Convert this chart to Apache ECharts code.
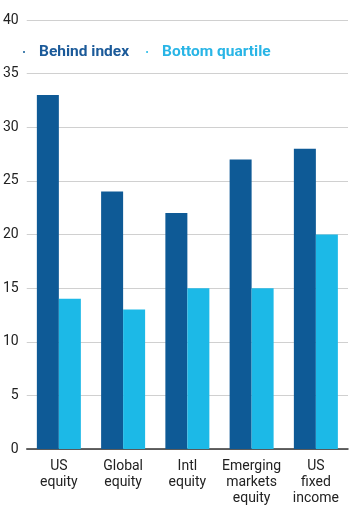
<!DOCTYPE html>
<html><head><meta charset="utf-8">
<script src="https://cdn.jsdelivr.net/npm/echarts@6/dist/echarts.min.js"></script>
<style>html,body{margin:0;padding:0;background:#fff}#c{width:356px;height:509px}</style>
</head><body><div id="c"></div>
<script>
const categories = ["US\nequity", "Global\nequity", "Intl\nequity", "Emerging\nmarkets\nequity", "US\nfixed\nincome"];
const behindIndex = [33, 24, 22, 27, 28];
const bottomQuartile = [14, 13, 15, 15, 20];
const seriesNames = ["Behind index", "Bottom quartile"];
const yTicks = [0, 5, 10, 15, 20, 25, 30, 35, 40];

const chart = echarts.init(document.getElementById('c'), null, {renderer: 'canvas'});
const narrow = '"Liberation Sans Narrow", "Roboto", sans-serif';
chart.setOption({
  animation: false,
  grid: {left: 26, right: 8, top: 20, bottom: 60, containLabel: false},
  legend: {
    left: 18, top: 39, icon: 'circle', itemWidth: 2, itemHeight: 2, itemGap: 17,
    data: [
      {name: seriesNames[0], textStyle: {color: '#1b5a99'}},
      {name: seriesNames[1], textStyle: {color: '#29b5e6'}}
    ],
    textStyle: {fontFamily: 'Roboto, sans-serif', fontWeight: 'bold', fontSize: 15.5, padding: [0, 0, 0, 9]}
  },
  xAxis: {
    type: 'category', data: categories,
    axisTick: {show: false},
    axisLine: {lineStyle: {color: '#333', width: 1.5}},
    axisLabel: {fontFamily: narrow, fontSize: 14, color: '#222', lineHeight: 16, margin: 9, interval: 0}
  },
  yAxis: {
    type: 'value', min: yTicks[0], max: yTicks[yTicks.length - 1], interval: 5,
    axisLine: {show: false}, axisTick: {show: false},
    splitLine: {lineStyle: {color: '#d0d0d0', width: 1}},
    axisLabel: {fontFamily: narrow, fontSize: 14, color: '#222', margin: 8}
  },
  series: [
    {name: seriesNames[0], type: 'bar', data: behindIndex, barWidth: 22, barGap: '0%', itemStyle: {color: '#0e5a96'}},
    {name: seriesNames[1], type: 'bar', data: bottomQuartile, barWidth: 22, barGap: '0%', itemStyle: {color: '#1cb9e7'}}
  ]
});
</script></body></html>
